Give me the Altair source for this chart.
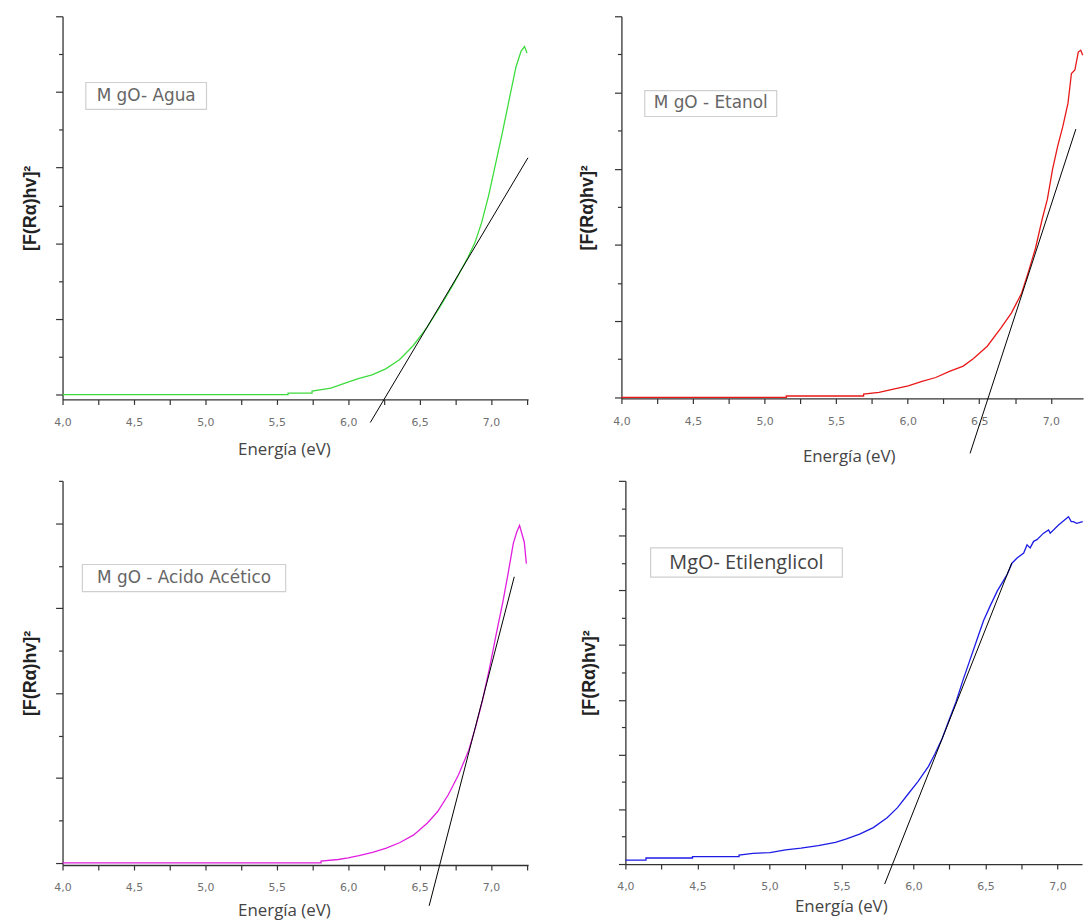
import altair as alt
import pandas as pd

# ---------------- data ----------------
# Energy (eV) and [F(R)hv]^2 (arbitrary units, one unit = one y tick step)
agua_E = [4.0, 5.579, 5.579, 5.747, 5.747, 5.879, 5.999, 6.071, 6.167, 6.263, 6.359,
          6.455, 6.551, 6.647, 6.743, 6.839, 6.887, 6.935, 6.983, 7.031, 7.079, 7.127,
          7.175, 7.211, 7.235, 7.252]
agua_F = [0.0, 0.0, 0.04, 0.04, 0.09, 0.17, 0.33, 0.42, 0.52, 0.68, 0.92,
          1.29, 1.77, 2.34, 2.96, 3.63, 4.01, 4.55, 5.25, 6.08, 6.91, 7.79,
          8.66, 9.08, 9.20, 9.03]
agua_tan_E = [6.155, 7.259]
agua_tan_F = [-0.74, 6.26]

etanol_E = [4.0, 5.152, 5.152, 5.692, 5.692, 5.80, 5.908, 6.004, 6.10, 6.196, 6.292,
            6.388, 6.46, 6.556, 6.652, 6.724, 6.796, 6.844, 6.892, 6.94, 6.976, 7.012,
            7.048, 7.084, 7.12, 7.144, 7.168, 7.192, 7.209, 7.223]
etanol_F = [0.0, 0.0, 0.035, 0.035, 0.087, 0.13, 0.22, 0.30, 0.42, 0.52, 0.68,
            0.82, 1.02, 1.34, 1.82, 2.21, 2.73, 3.30, 3.90, 4.68, 5.20, 5.98,
            6.59, 7.11, 7.72, 8.50, 8.59, 9.06, 9.11, 8.98]
etanol_tan_E = [6.436, 7.175]
etanol_tan_F = [-1.47, 7.04]

acetico_E = [4.0, 5.81, 5.81, 5.93, 6.0, 6.075, 6.171, 6.267, 6.363, 6.459, 6.555,
             6.627, 6.70, 6.772, 6.844, 6.892, 6.94, 6.988, 7.036, 7.084, 7.12,
             7.156, 7.18, 7.20, 7.216, 7.233, 7.248]
acetico_F = [0.0, 0.0, 0.04, 0.08, 0.12, 0.17, 0.25, 0.35, 0.48, 0.66, 0.94,
             1.21, 1.60, 2.07, 2.65, 3.20, 3.82, 4.56, 5.38, 6.16, 6.82,
             7.52, 7.79, 7.95, 7.76, 7.56, 7.05]
acetico_tan_E = [6.567, 7.163]
acetico_tan_F = [-1.01, 6.74]

etil_E = [4.0, 4.143, 4.143, 4.466, 4.466, 4.789, 4.789, 4.885, 5.004, 5.112, 5.219,
          5.339, 5.458, 5.53, 5.626, 5.721, 5.817, 5.889, 5.96, 6.032, 6.104, 6.151,
          6.199, 6.247, 6.295, 6.343, 6.391, 6.438, 6.486, 6.534, 6.582, 6.63, 6.65,
          6.685, 6.719, 6.765, 6.788, 6.81, 6.834, 6.857, 6.903, 6.938, 6.949, 7.007,
          7.076, 7.095, 7.11, 7.133, 7.175]
etil_F = [0.145, 0.145, 0.22, 0.22, 0.27, 0.27, 0.33, 0.39, 0.42, 0.52, 0.58,
          0.67, 0.79, 0.91, 1.09, 1.33, 1.69, 2.06, 2.54, 3.02, 3.57, 4.05,
          4.59, 5.26, 5.92, 6.71, 7.44, 8.16, 8.89, 9.45, 9.98, 10.40, 10.58,
          11.0, 11.18, 11.36, 11.66, 11.55, 11.79, 11.85, 12.09, 12.21, 12.09, 12.39,
          12.69, 12.51, 12.51, 12.45, 12.51]
etil_tan_E = [5.80, 6.682]
etil_tan_F = [-0.73, 11.0]

legend_labels = ["M gO- Agua", "M gO - Etanol", "M gO - Acido Acético", "MgO- Etilenglicol"]
legend_box_E = [[4.163, 5.008], [4.163, 5.085], [4.139, 5.5625], [4.175, 5.506]]
legend_box_F = [[8.25, 7.54], [8.05, 7.37], [7.03, 6.39], [11.55, 10.48]]

x_ticks_full = [4.0, 4.25, 4.5, 4.75, 5.0, 5.25, 5.5, 5.75, 6.0, 6.25, 6.5, 6.75, 7.0, 7.25]

LABEL_EXPR = ("round(datum.value*4) % 2 == 0 ? "
              "replace(format(datum.value, '.1f'), '.', ',') : ''")
YTITLE = "[F(Rα)hv]²"


def panel(E, F, color, tE, tF, idx, xmax, ymin, ymax, w, h, n_units,
          xtitle_pad, xtitle_x, ytitle_pad, lsize, lcolor, lfont):
    xs = alt.Scale(domain=[4.0, xmax], nice=False, zero=False)
    ys = alt.Scale(domain=[ymin, ymax], nice=False, zero=False)
    xticks = [t for t in x_ticks_full if t <= xmax + 1e-9]
    major = [v for v in range(0, n_units + 1) if v % 2 == 0]
    minor = [v for v in range(0, n_units + 1) if v % 2 == 1]

    df = pd.DataFrame({"E": E, "F": F, "i": list(range(len(E)))})
    tdf = pd.DataFrame({"E": tE, "F": tF})
    bdf = pd.DataFrame({"E": [legend_box_E[idx][0]], "E2": [legend_box_E[idx][1]],
                        "F": [legend_box_F[idx][0]], "F2": [legend_box_F[idx][1]],
                        "Ec": [sum(legend_box_E[idx]) / 2], "Fc": [sum(legend_box_F[idx]) / 2],
                        "label": [legend_labels[idx]]})

    xaxis = alt.Axis(values=xticks, labelExpr=LABEL_EXPR, tickSize=5, labelPadding=12,
                     labelFontSize=11, labelColor="#707070", labelFont="DejaVu Sans",
                     title="Energía (eV)", titlePadding=xtitle_pad, titleX=xtitle_x,
                     titleFont="Open Sans", titleFontSize=17, titleFontWeight="normal",
                     titleColor="#444", grid=False, labelFlush=False)
    yaxis_major = alt.Axis(values=major, labels=False, tickSize=7, orient="left",
                           title=YTITLE, titlePadding=ytitle_pad, titleFont="Liberation Sans",
                           titleFontSize=18, titleFontWeight="bold", titleColor="#222",
                           grid=False)
    yaxis_minor = alt.Axis(values=minor, labels=False, tickSize=4, orient="left",
                           title=None, domain=False, grid=False)

    curve = alt.Chart(df).mark_line(color=color, strokeWidth=1.3, clip=False).encode(
        x=alt.X("E:Q", scale=xs, axis=xaxis),
        y=alt.Y("F:Q", scale=ys, axis=yaxis_major),
        order=alt.Order("i:Q"),
    )
    minor_layer = alt.Chart(df).mark_line(strokeOpacity=0).encode(
        x=alt.X("E:Q", scale=xs, axis=xaxis),
        y=alt.Y("F:Q", scale=ys, axis=yaxis_minor),
        order=alt.Order("i:Q"),
    )
    tangent = alt.Chart(tdf).mark_line(color="black", strokeWidth=1, clip=False).encode(
        x=alt.X("E:Q", scale=xs, axis=xaxis),
        y=alt.Y("F:Q", scale=ys, axis=None),
    )
    box = alt.Chart(bdf).mark_rect(fill="white", stroke="#cfcfcf", strokeWidth=1.2).encode(
        x=alt.X("E:Q", scale=xs, axis=xaxis), x2="E2:Q",
        y=alt.Y("F:Q", scale=ys, axis=None), y2="F2:Q",
    )
    text = alt.Chart(bdf).mark_text(fontSize=lsize, color=lcolor, font=lfont,
                                    align="center", baseline="middle").encode(
        x=alt.X("Ec:Q", scale=xs, axis=xaxis),
        y=alt.Y("Fc:Q", scale=ys, axis=None),
        text="label:N",
    )
    return alt.layer(curve, minor_layer, tangent, box, text).resolve_axis(
        y="independent").properties(width=w, height=h)


p1 = panel(agua_E, agua_F, "#3ddc3d", agua_tan_E, agua_tan_F, 0,
           7.26, -0.13, 10, 469, 386, 10, 14, 223, 16, 17, "#666", "DejaVu Sans")
p2 = panel(etanol_E, etanol_F, "#e81818", etanol_tan_E, etanol_tan_F, 1,
           7.225, -0.03, 10, 465, 385, 10, 23, 229, 18, 17, "#666", "DejaVu Sans")
p3 = panel(acetico_E, acetico_F, "#e01ee0", acetico_tan_E, acetico_tan_F, 2,
           7.26, -0.05, 9, 469, 387, 9, 10, 223, 16, 17, "#666", "DejaVu Sans")
p4 = panel(etil_E, etil_F, "#1c1ce6", etil_tan_E, etil_tan_F, 3,
           7.17, 0, 14, 460, 386, 14, 7, 217, 20, 20, "#444", "Open Sans")

top = alt.hconcat(p1, p2, spacing=48)
bottom = alt.hconcat(p3, p4, spacing=51)

chart = alt.vconcat(top, bottom, spacing=15).properties(
    padding={"left": 21, "top": 12, "right": 0, "bottom": 0}
).configure_view(stroke=None).configure_axis(
    domainColor="#333", domainWidth=1.3, tickColor="#333", tickWidth=1.2
)

chart.save("out.html", embed_options={"renderer": "svg", "actions": False})
